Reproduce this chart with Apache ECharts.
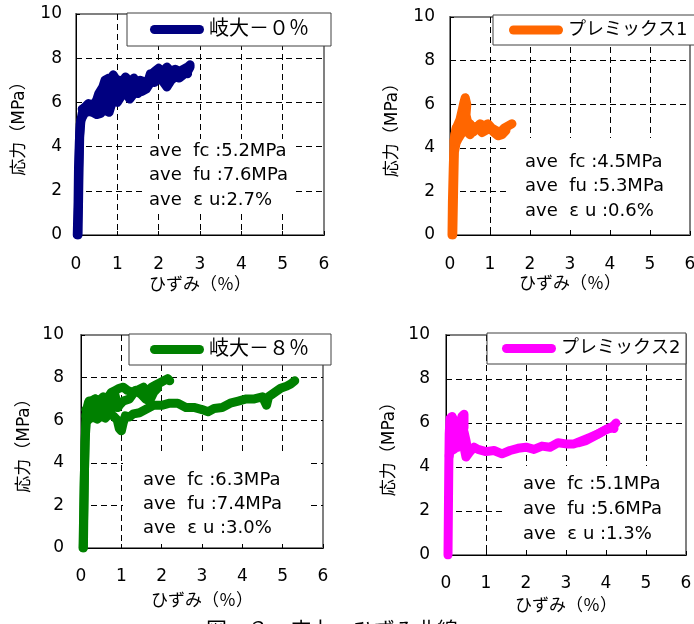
<!DOCTYPE html>
<html><head><meta charset="utf-8">
<script src="https://cdn.jsdelivr.net/npm/echarts@6/dist/echarts.min.js"></script>
<style>html,body{margin:0;padding:0;background:#fff}#c{width:694px;height:624px}</style>
</head><body><div id="c"></div>
<script>
// ---------- data ----------
const panelNames = ['岐大－０％', 'プレミックス1', '岐大－８％', 'プレミックス2'];
const panelColors = ['#000080', '#FF6600', '#008000', '#FF00FF'];
const xMin = 0, xMax = 6, xStep = 1;          // ひずみ (%)
const yMin = 0, yMax = 10, yStep = 2;         // 応力 (MPa)
const xAxisTitle = 'ひずみ（％）';
const yAxisTitle = '応力（MPa）';
const statFc = ['5.2', '4.5', '6.3', '5.1'];
const statFu = ['7.6', '5.3', '7.4', '5.6'];
const statEu = ['2.7', '0.6', '3.0', '1.3'];
const euSep = ['', ' ', ' ', ' '];
const captionText = '図－３　応力－ひずみ曲線';

// 岐大－0%
const gifu0A = [[0.03,0],[0.05,1.5],[0.06,3],[0.08,4.2],[0.1,5.0],[0.15,5.5],[0.2,5.75],[0.3,5.95],[0.4,5.85],[0.5,6.1],[0.55,6.4],[0.65,6.7],[0.7,7.0],[0.8,7.1],[0.85,6.9],[0.9,7.25],[0.95,7.1],[1.0,6.7],[1.1,6.9],[1.2,7.15],[1.3,6.9],[1.4,7.1],[1.45,6.9],[1.55,7.0],[1.7,6.9],[1.8,7.1],[1.9,7.4],[2.0,7.55],[2.1,7.4],[2.2,7.6],[2.3,7.4],[2.4,7.5],[2.5,7.4],[2.6,7.5],[2.7,7.6],[2.76,7.7]];
const gifu0B = [[0.05,0],[0.07,2.5],[0.09,4.5],[0.12,5.2],[0.2,5.5],[0.3,5.6],[0.4,5.55],[0.5,5.45],[0.6,5.5],[0.7,5.8],[0.75,5.6],[0.8,5.55],[0.85,5.85],[0.9,6.1],[1.0,6.0],[1.1,6.3],[1.2,6.45],[1.3,6.15],[1.4,6.4],[1.5,6.6],[1.6,6.5],[1.7,6.6],[1.8,6.9],[1.9,7.0],[2.0,7.1],[2.1,6.95],[2.2,6.7],[2.3,7.0],[2.4,7.15],[2.5,7.1],[2.6,7.25],[2.7,7.4],[2.76,7.6]];
const gifu0C = [[0.15,5.7],[0.3,5.8],[0.45,5.9],[0.55,6.1],[0.65,6.3],[0.75,6.5],[0.85,6.4],[0.95,6.6],[1.05,6.5],[1.15,6.8],[1.25,6.7],[1.35,6.9],[1.5,6.85],[1.65,6.8],[1.8,7.0],[1.95,7.25],[2.1,7.2],[2.25,7.3],[2.4,7.35],[2.55,7.3],[2.7,7.5]];
const gifu0D = [[0.5,5.6],[0.55,6.2],[0.6,5.7],[0.65,6.6],[0.7,6.0],[0.75,6.9],[0.8,6.3],[0.85,7.0],[0.9,6.4],[0.95,6.9],[1.0,6.3],[1.05,7.0],[1.1,6.5],[1.2,7.0],[1.3,6.5],[1.4,6.9],[1.5,6.4],[1.6,6.9],[1.7,6.7],[1.8,7.3],[1.9,6.9],[2.0,7.4],[2.1,7.0],[2.2,7.5],[2.3,7.2],[2.4,7.4],[2.5,7.25],[2.6,7.45],[2.7,7.3]];
// プレミックス1
const premix1A = [[0.05,0],[0.06,1.5],[0.08,3],[0.1,4.2],[0.12,4.6],[0.18,5.0],[0.25,5.3],[0.3,5.7],[0.35,6.1],[0.38,6.3],[0.42,6.0],[0.4,5.5],[0.45,5.1],[0.55,5.0],[0.65,4.9],[0.75,5.1],[0.85,5.0],[0.95,5.1],[1.05,4.9],[1.15,4.8],[1.25,4.7],[1.35,4.9],[1.45,5.0],[1.55,5.1]];
const premix1B = [[0.07,0],[0.09,2],[0.11,3.8],[0.15,4.2],[0.2,4.4],[0.3,4.7],[0.4,4.8],[0.5,4.6],[0.6,4.8],[0.7,4.9],[0.8,4.7],[0.9,4.8],[1.0,4.9],[1.1,4.7],[1.2,4.55],[1.3,4.6],[1.4,4.8]];
const premix1C = [[0.1,4.3],[0.15,4.9],[0.2,4.5],[0.25,5.2],[0.3,4.7],[0.35,5.5],[0.4,4.9],[0.5,5.1],[0.6,4.75],[0.7,5.0]];
// 岐大－8%
const gifu8A = [[0.05,0],[0.07,2],[0.09,4],[0.11,5.5],[0.13,6.3],[0.18,6.8],[0.25,6.9],[0.35,7.0],[0.45,6.9],[0.55,7.1],[0.65,7.0],[0.75,7.3],[0.85,7.4],[0.95,7.5],[1.05,7.55],[1.15,7.4],[1.3,7.3],[1.45,7.45],[1.55,7.55],[1.65,7.3],[1.75,7.55],[1.85,7.65],[1.95,7.75],[2.05,7.85],[2.15,7.95],[2.2,7.85]];
const gifu8B = [[0.06,0],[0.08,3],[0.1,5],[0.13,5.9],[0.2,6.05],[0.3,6.15],[0.4,6.05],[0.5,6.2],[0.6,6.1],[0.7,6.3],[0.8,6.2],[0.9,6.0],[0.95,5.6],[1.0,5.5],[1.05,5.9],[1.1,6.2],[1.2,6.15],[1.3,6.3],[1.45,6.35],[1.6,6.5],[1.8,6.7],[2.0,6.7],[2.2,6.8],[2.4,6.8],[2.6,6.6],[2.8,6.6],[3.0,6.5],[3.15,6.4],[3.3,6.55],[3.5,6.6],[3.7,6.8],[3.9,6.9],[4.1,7.0],[4.3,7.0],[4.5,7.1],[4.6,6.7],[4.65,7.1],[4.8,7.3],[4.95,7.5],[5.1,7.6],[5.2,7.7],[5.3,7.85]];
const gifu8C = [[0.12,6.5],[0.3,6.6],[0.5,6.5],[0.7,6.7],[0.9,6.6],[1.05,6.9],[1.2,7.0],[1.35,7.4],[1.5,7.2],[1.6,7.0],[1.7,6.9],[1.8,7.3],[1.9,7.5]];
const gifu8D = [[0.12,6.2],[0.2,6.9],[0.28,6.3],[0.36,7.0],[0.44,6.4],[0.52,7.0],[0.6,6.4],[0.68,7.1],[0.76,6.5],[0.84,7.2],[0.92,6.6]];
// プレミックス2
const premix2A = [[0.05,0],[0.06,2],[0.07,4],[0.08,5.5],[0.1,6.2],[0.15,6.3],[0.2,5.6],[0.15,5.2],[0.1,4.7],[0.2,4.8],[0.3,5.5],[0.35,6.0],[0.4,6.3],[0.45,6.4],[0.45,5.8],[0.4,5.4],[0.45,4.9],[0.5,4.45],[0.6,4.7],[0.7,4.9],[0.8,4.8],[1.0,4.7],[1.2,4.75],[1.4,4.6],[1.6,4.75],[1.8,4.85],[2.0,4.9],[2.2,4.8],[2.4,4.95],[2.6,4.9],[2.8,5.1],[3.0,5.05],[3.2,5.05],[3.4,5.2],[3.6,5.35],[3.8,5.5],[4.0,5.7],[4.1,5.75],[4.2,5.9],[4.25,6.0]];
const premix2B = [[0.08,4.5],[0.12,5.0],[0.15,5.8],[0.18,6.2],[0.2,5.9],[0.22,5.3],[0.3,4.9],[0.35,5.3],[0.45,5.6],[0.5,5.2],[0.55,4.7]];
const premix2C = [[3.3,5.1],[3.5,5.2],[3.7,5.4],[3.9,5.6],[4.1,5.8],[4.2,5.75]];

const panelSeries = [[gifu0A, gifu0B, gifu0C, gifu0D], [premix1A, premix1B, premix1C], [gifu8A, gifu8B, gifu8C, gifu8D], [premix2A, premix2B, premix2C]];

// ---------- layout ----------
const FONT = "'DejaVu Sans', 'Noto Sans CJK JP', sans-serif";
const layouts = [
  {grid:{left:76, top:14, width:248, height:221}, xLab:21, yLab:14, xGap:42, yGap:48,
   leg:{left:127, top:13, padding:[6,18,6,23], tw:104, lh:21, fs:20},
   box:[145,139,147,73], tx:149, ty:[151,175,200]},
  {grid:{left:450, top:17, width:240, height:218}, xLab:21, yLab:15, xGap:41, yGap:49,
   leg:{left:493, top:15, padding:[5,11,5,16], tw:120, lh:20, fs:18},
   box:[507,138,180,92], tx:525, ty:[162,186,211]},
  {grid:{left:81, top:335, width:242, height:213}, xLab:20, yLab:17, xGap:45, yGap:48,
   leg:{left:129, top:334, padding:[5,18,5,21], tw:104, lh:21, fs:20},
   box:[123,452,185,91], tx:143, ty:[480,504,528]},
  {grid:{left:446, top:335, width:240, height:220}, xLab:20, yLab:16, xGap:43, yGap:48,
   leg:{left:487, top:333, padding:[5,5,5,15], tw:120, lh:21, fs:18},
   box:[502,466,182,84], tx:523, ty:[484,509,534]}
];

const grid = [], xAxis = [], yAxis = [], series = [], legend = [], elements = [];
const dash = {color:'#000', width:1, type:[6,4]};
layouts.forEach((L, i) => {
  grid.push(Object.assign({show:true, borderColor:'#808080', borderWidth:2, outerBoundsMode:'none'}, L.grid));
  xAxis.push({type:'value', gridIndex:i, min:xMin, max:xMax, interval:xStep,
    axisLine:{show:true, onZero:false, lineStyle:{color:'#000', width:1}},
    axisTick:{show:true, inside:true, length:4, lineStyle:{color:'#000'}},
    axisLabel:{margin:L.xLab, fontSize:17, color:'#000', fontFamily:FONT},
    splitLine:{show:true, showMinLine:false, showMaxLine:false, lineStyle:dash},
    name:xAxisTitle, nameLocation:'middle', nameGap:L.xGap,
    nameTextStyle:{fontSize:17, color:'#000', fontFamily:FONT}});
  yAxis.push({type:'value', gridIndex:i, min:yMin, max:yMax, interval:yStep,
    axisLine:{show:true, onZero:false, lineStyle:{color:'#000', width:1}},
    axisTick:{show:true, inside:true, length:4, lineStyle:{color:'#000'}},
    axisLabel:{margin:L.yLab, fontSize:17, color:'#000', fontFamily:FONT},
    splitLine:{show:true, showMinLine:false, showMaxLine:false, lineStyle:dash},
    name:yAxisTitle, nameLocation:'middle', nameGap:L.yGap,
    nameTextStyle:{fontSize:17, color:'#000', fontFamily:FONT}});
  panelSeries[i].forEach(d => {
    series.push({type:'line', name:panelNames[i], xAxisIndex:i, yAxisIndex:i, data:d,
      showSymbol:false, symbol:'none', silent:true, z:3,
      itemStyle:{color:panelColors[i]},
      lineStyle:{color:panelColors[i], width:9, cap:'round', join:'round'}});
  });
  legend.push({data:[panelNames[i]], left:L.leg.left, top:L.leg.top, padding:L.leg.padding,
    orient:'horizontal', selectedMode:false, itemWidth:54, itemHeight:9,
    icon:'path://M4.5,0H49.5A4.5,4.5,0,0,1,49.5,9H4.5A4.5,4.5,0,0,1,4.5,0Z',
    backgroundColor:'#fff', borderColor:'#404040', borderWidth:1, borderRadius:0,
    textStyle:{fontSize:L.leg.fs, color:'#000', fontFamily:FONT, width:L.leg.tw, lineHeight:L.leg.lh}});
  elements.push({type:'rect', z:1, shape:{x:L.box[0], y:L.box[1], width:L.box[2], height:L.box[3]},
    style:{fill:'#fff'}, silent:true});
  const lines = [
    '{a|ave  fc :' + statFc[i] + 'MPa}',
    '{a|ave  fu :' + statFu[i] + 'MPa}',
    '{a|ave  }{e|ε}{a|u' + euSep[i] + ':' + statEu[i] + '%}'
  ];
  lines.forEach((t, k) => {
    elements.push({type:'text', z:2, x:L.tx, y:L.ty[k], silent:true,
      style:{text:t, fill:'#000', font:'18px ' + FONT, verticalAlign:'middle', align:'left',
        rich:{a:{fontSize:18, fontFamily:FONT, fill:'#000', lineHeight:22},
              e:{fontSize:18, fontFamily:FONT, fill:'#000', lineHeight:22, padding:[0,6,0,0]}}}});
  });
});
elements.push({type:'text', z:2, x:206, y:619, silent:true,
  style:{text:captionText, fill:'#000', font:"21px 'Noto Sans CJK JP', sans-serif", verticalAlign:'top'}});

const chart = echarts.init(document.getElementById('c'), null, {renderer:'canvas'});
chart.setOption({animation:false, backgroundColor:'#fff', grid, xAxis, yAxis, series, legend,
  graphic:{elements}});
</script>
</body></html>
